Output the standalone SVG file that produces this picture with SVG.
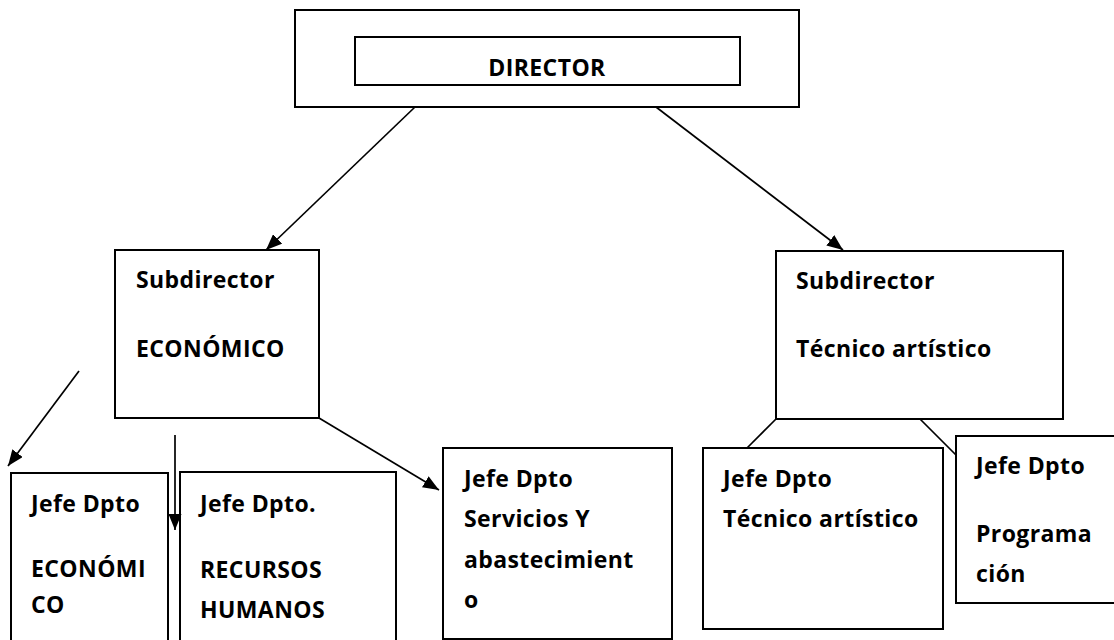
<svg xmlns="http://www.w3.org/2000/svg" width="1114" height="640" viewBox="0 0 1114 640">
<defs>
<marker id="ah" viewBox="0 0 16 13" refX="16" refY="6.5" markerWidth="16" markerHeight="13" markerUnits="userSpaceOnUse" orient="auto">
<path d="M0,0 L16,6.5 L0,13 z" fill="#000"/>
</marker>
<style>
.box{fill:#fff;stroke:#000;stroke-width:2}
.t{font-family:"Open Sans","Liberation Sans",sans-serif;font-weight:bold;font-size:23px;fill:#000;letter-spacing:0.4px}
.c{fill:none;stroke:#000;stroke-width:1.7}
</style>
</defs>
<rect width="1114" height="640" fill="#fff"/>
<g id="director">
<rect class="box" x="295" y="10" width="504" height="97"/>
<rect class="box" x="355" y="37" width="385" height="48"/>
<text class="t" x="547" y="76" text-anchor="middle">DIRECTOR</text>
</g>
<g id="sub-economico">
<rect class="box" x="115" y="250" width="204" height="168"/>
<text class="t" x="136" y="288">Subdirector</text>
<text class="t" x="136" y="357">ECONÓMICO</text>
</g>
<g id="sub-tecnico">
<rect class="box" x="776" y="251" width="287" height="168"/>
<text class="t" x="796" y="289">Subdirector</text>
<text class="t" x="796" y="357">Técnico artístico</text>
</g>
<g id="jefe-economico">
<rect class="box" x="11" y="473" width="157" height="180"/>
<text class="t" x="31" y="512">Jefe Dpto</text>
<text class="t" x="31" y="577">ECONÓMI</text>
<text class="t" x="31" y="613">CO</text>
</g>
<g id="jefe-rrhh">
<rect class="box" x="180" y="472" width="216" height="180"/>
<text class="t" x="200" y="512">Jefe Dpto.</text>
<text class="t" x="200" y="578">RECURSOS</text>
<text class="t" x="200" y="618">HUMANOS</text>
</g>
<g id="jefe-servicios">
<rect class="box" x="443" y="448" width="229" height="191"/>
<text class="t" x="464" y="487">Jefe Dpto</text>
<text class="t" x="464" y="527">Servicios Y</text>
<text class="t" x="464" y="568">abastecimient</text>
<text class="t" x="464" y="608">o</text>
</g>
<g id="jefe-tecnico">
<rect class="box" x="703" y="448" width="240" height="181"/>
<text class="t" x="723" y="487">Jefe Dpto</text>
<text class="t" x="723" y="527">Técnico artístico</text>
</g>
<g id="jefe-programacion">
<rect class="box" x="956" y="436" width="170" height="167"/>
<text class="t" x="976" y="474">Jefe Dpto</text>
<text class="t" x="976" y="542">Programa</text>
<text class="t" x="976" y="582">ción</text>
</g>
<g id="connectors">
<line class="c" x1="415" y1="107" x2="266" y2="250" marker-end="url(#ah)"/>
<line class="c" x1="656" y1="107" x2="843" y2="250" marker-end="url(#ah)"/>
<line class="c" x1="79" y1="371" x2="8" y2="466" marker-end="url(#ah)"/>
<line class="c" x1="175" y1="435" x2="175" y2="530" marker-end="url(#ah)"/>
<line class="c" x1="319" y1="418" x2="439" y2="490" marker-end="url(#ah)"/>
<line class="c" x1="776" y1="419" x2="747" y2="448"/>
<line class="c" x1="920" y1="419" x2="956" y2="455"/>
</g>
</svg>
